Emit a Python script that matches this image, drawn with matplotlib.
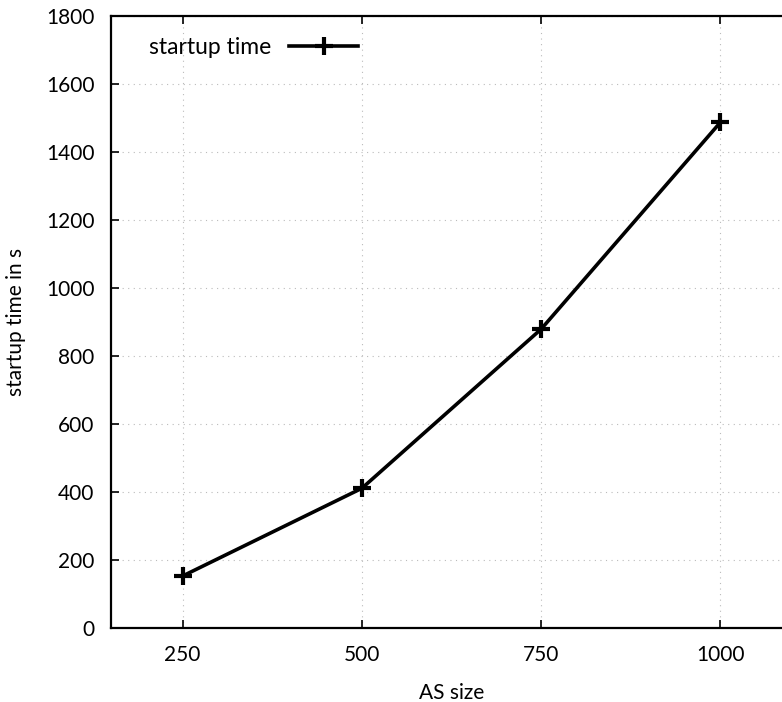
import matplotlib
matplotlib.use("Agg")
import matplotlib.pyplot as plt

as_size = [250, 500, 750, 1000]
startup_s = [153, 411, 879, 1487]
x_ticks = [250, 500, 750, 1000]
y_ticks = [0, 200, 400, 600, 800, 1000, 1200, 1400, 1600, 1800]

plt.rcParams["font.family"] = ["Lato", "DejaVu Sans"]

fig = plt.figure(figsize=(7.82, 7.02), dpi=100)
# plot box runs a little past the right edge of the canvas
ax = fig.add_axes([111 / 782, 1 - 628 / 702, (792 - 111) / 782, (628 - 16) / 702])

ax.plot(as_size, startup_s, color="black", lw=2.6, marker="+", ms=13, mew=3,
        label="startup time")

ax.set_xlim(150, 1100)
ax.set_ylim(0, 1800)
ax.set_xticks(x_ticks)
ax.set_yticks(y_ticks)
ax.tick_params(direction="in", length=6, width=1.2, labelsize=15, top=True, right=True,
               pad=12)
ax.tick_params(axis="x", pad=12)
ax.grid(True, color="#bbbbbb", linestyle=(0, (1, 4)), linewidth=0.8)
for s in ax.spines.values():
    s.set_linewidth(1.6)

ax.set_xlabel("AS size", fontsize=15, labelpad=13)
ax.set_ylabel("startup time in s", fontsize=15, labelpad=14)

ax.legend(loc="upper left", markerfirst=False, frameon=False, fontsize=16.5,
          handlelength=3, bbox_to_anchor=(0.025, 1.0))

fig.savefig("out.png", dpi=100)
